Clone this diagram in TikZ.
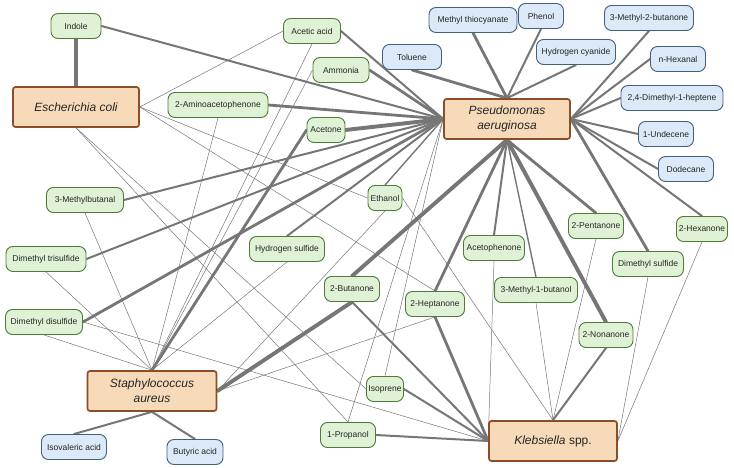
\documentclass[tikz,border=0pt]{standalone}
\usepackage{fontspec}
\setmainfont{Liberation Sans}
\usetikzlibrary{positioning}
\definecolor{leafgreen}{RGB}{223,242,214}
\definecolor{greenline}{RGB}{78,122,58}
\definecolor{skyblue}{RGB}{219,233,248}
\definecolor{blueline}{RGB}{66,96,128}
\definecolor{peach}{RGB}{246,218,186}
\definecolor{brownline}{RGB}{140,78,38}
\definecolor{linkgray}{RGB}{118,118,118}
\pgfdeclarelayer{links}
\pgfsetlayers{links,main}
\tikzset{
x=1pt, y=-1pt, % one unit is one pixel of the figure
compound/.style={draw=greenline, fill=leafgreen, rounded corners=7pt, line width=0.9pt,
  minimum height=25pt, inner sep=0pt, font=\fontsize{8.5}{10}\selectfont, text=black!85}, % shared compounds
unique/.style={compound, draw=blueline, fill=skyblue}, % compounds of one species only
species/.style={draw=brownline, fill=peach, rounded corners=2.5pt, line width=1.7pt,
  minimum width=126pt, minimum height=40pt, align=center,
  font=\fontsize{12}{15}\selectfont\itshape, text=black!85},
link/.style={draw=linkgray, line cap=round},
faint/.style={link, line width=0.5pt}, % one report
light/.style={link, line width=1.4pt},
medium/.style={link, line width=2pt},
heavy/.style={link, line width=2.8pt},
massive/.style={link, line width=3.9pt},
}
\begin{document}
\begin{tikzpicture}
\useasboundingbox (0,0) rectangle (734,468);
% species
\node[species] (ECOLI) at (76,107) {Escherichia coli};
\node[species] (PSEUDO) at (507,119) {Pseudomonas\\aeruginosa};
\node[species, minimum width=129pt] (STAPH) at (152,391) {Staphylococcus\\aureus};
\node[species, minimum width=128pt] (KLEB) at (553,441) {Klebsiella \upshape spp.};

% shared compounds
\node[compound, minimum width=50pt] (indole) at (76,26) {Indole};
\node[compound, minimum width=57pt] (acetic) at (312,31) {Acetic acid};
\node[compound, minimum width=56pt] (ammonia) at (341,70) {Ammonia};
\node[compound, minimum width=100pt] (aap) at (218,105) {2-Aminoacetophenone};
\node[compound, minimum width=38pt] (acetone) at (326,130) {Acetone};
\node[compound, minimum width=77pt] (mbutanal) at (85,200) {3-Methylbutanal};
\node[compound, minimum width=80pt] (dmts) at (46,259) {Dimethyl trisulfide};
\node[compound, minimum width=77pt] (dmds) at (44,322) {Dimethyl disulfide};
\node[compound, minimum width=34pt] (ethanol) at (385,198) {Ethanol};
\node[compound, minimum width=75pt] (hsulf) at (287,249) {Hydrogen sulfide};
\node[compound, minimum width=55pt] (butanone) at (352,289) {2-Butanone};
\node[compound, minimum width=59pt] (heptanone) at (435,304) {2-Heptanone};
\node[compound, minimum width=61pt] (acetoph) at (494,248) {Acetophenone};
\node[compound, minimum width=83pt] (mbutanol) at (536,290) {3-Methyl-1-butanol};
\node[compound, minimum width=55pt] (pentanone) at (596,226) {2-Pentanone};
\node[compound, minimum width=51pt] (hexanone) at (702,229) {2-Hexanone};
\node[compound, minimum width=71pt] (dms) at (648,264) {Dimethyl sulfide};
\node[compound, minimum width=54pt] (nonanone) at (606,335) {2-Nonanone};
\node[compound, minimum width=37pt] (isoprene) at (385,389) {Isoprene};
\node[compound, minimum width=55pt] (propanol) at (348,435) {1-Propanol};

% compounds of one species
\node[unique, minimum width=59pt] (toluene) at (412,57) {Toluene};
\node[unique, minimum width=88pt] (mthio) at (473,20) {Methyl thiocyanate};
\node[unique, minimum width=45pt] (phenol) at (541,16) {Phenol};
\node[unique, minimum width=79pt] (hcn) at (576,52) {Hydrogen cyanide};
\node[unique, minimum width=89pt] (mbutone) at (649,18) {3-Methyl-2-butanone};
\node[unique, minimum width=55pt] (hexanal) at (678,59) {n-Hexanal};
\node[unique, minimum width=102pt] (dmhept) at (672,98) {2,4-Dimethyl-1-heptene};
\node[unique, minimum width=55pt] (undecene) at (666,134) {1-Undecene};
\node[unique, minimum width=55pt] (dodecane) at (686,169) {Dodecane};
\node[unique, minimum width=65pt] (isoval) at (74,447) {Isovaleric acid};
\node[unique, minimum width=56pt] (butyric) at (195,452) {Butyric acid};

\begin{pgfonlayer}{links}
% Pseudomonas aeruginosa
\draw[medium] (indole.east) -- (PSEUDO.west);
\draw[medium] (acetic.east) -- (PSEUDO.west);
\draw[heavy] (ammonia.east) -- (PSEUDO.west);
\draw[heavy] (aap.east) -- (PSEUDO.west);
\draw[massive] (acetone.east) -- (PSEUDO.west);
\draw[medium] (mbutanal.east) -- (PSEUDO.west);
\draw[medium] (dmts.east) -- (PSEUDO.west);
\draw[heavy] (dmds.east) -- (PSEUDO.west);
\draw[light] (ethanol.north) -- (PSEUDO.west);
\draw[medium] (hsulf.north) -- (PSEUDO.west);
\draw[faint] (isoprene.north) -- (PSEUDO.west);
\draw[faint] (propanol.north) -- (PSEUDO.west);
\draw[heavy] (toluene.south) -- (PSEUDO.north);
\draw[heavy] (mthio.south) -- (PSEUDO.north);
\draw[medium] (phenol.south) -- (PSEUDO.north);
\draw[medium] (hcn.south) -- (PSEUDO.north);
\draw[medium] (mbutone.south) -- (PSEUDO.east);
\draw[medium] (hexanal.west) -- (PSEUDO.east);
\draw[medium] (dmhept.west) -- (PSEUDO.east);
\draw[medium] (undecene.west) -- (PSEUDO.east);
\draw[medium] (dodecane.west) -- (PSEUDO.east);
\draw[medium] (hexanone.north) -- (PSEUDO.east);
\draw[heavy] (dms.north) -- (PSEUDO.east);
\draw[heavy] (pentanone.north) -- (PSEUDO.south);
\draw[massive] (nonanone.north) -- (PSEUDO.south);
\draw[light] (mbutanol.north) -- (PSEUDO.south);
\draw[medium] (acetoph.north) -- (PSEUDO.south);
\draw[heavy] (heptanone.north) -- (PSEUDO.south);
\draw[massive] (butanone.north) -- (PSEUDO.south);
% Escherichia coli
\draw[massive] (indole.south) -- (ECOLI.north);
\draw[faint] (acetic.west) -- (ECOLI.east);
\draw[faint] (ethanol.west) -- (ECOLI.east);
\draw[faint] (heptanone.north) -- (ECOLI.east);
\draw[faint] (isoprene.west) -- (ECOLI.south);
\draw[faint] (propanol.north) -- (ECOLI.south);
% Staphylococcus aureus
\draw[heavy] (acetone.west) -- (STAPH.north);
\draw[faint] (acetic.south) -- (STAPH.north);
\draw[faint] (ammonia.west) -- (STAPH.north);
\draw[faint] (aap.south) -- (STAPH.north);
\draw[faint] (hsulf.south) -- (STAPH.north);
\draw[faint] (mbutanal.south) -- (STAPH.north);
\draw[faint] (dmts.south) -- (STAPH.north);
\draw[faint] (dmds.south) -- (STAPH.north);
\draw[massive] (butanone.south) -- (STAPH.east);
\draw[faint] (ethanol.south) -- (STAPH.east);
\draw[faint] (heptanone.south) -- (STAPH.east);
\draw[medium] (isoval.north) -- (STAPH.south);
\draw[medium] (butyric.north) -- (STAPH.south);
% Klebsiella
\draw[medium] (butanone.south) -- (KLEB.west);
\draw[heavy] (heptanone.south) -- (KLEB.west);
\draw[medium] (isoprene.east) -- (KLEB.west);
\draw[medium] (propanol.east) -- (KLEB.west);
\draw[faint] (dmds.east) -- (KLEB.west);
\draw[faint] (acetoph.south) -- (KLEB.west);
\draw[faint] (ethanol.east) -- (KLEB.north);
\draw[faint] (mbutanol.south) -- (KLEB.north);
\draw[faint] (pentanone.south) -- (KLEB.north);
\draw[medium] (nonanone.south) -- (KLEB.north);
\draw[faint] (dms.south) -- (KLEB.east);
\draw[faint] (hexanone.south) -- (KLEB.east);
\end{pgfonlayer}
\end{tikzpicture}
\end{document}
